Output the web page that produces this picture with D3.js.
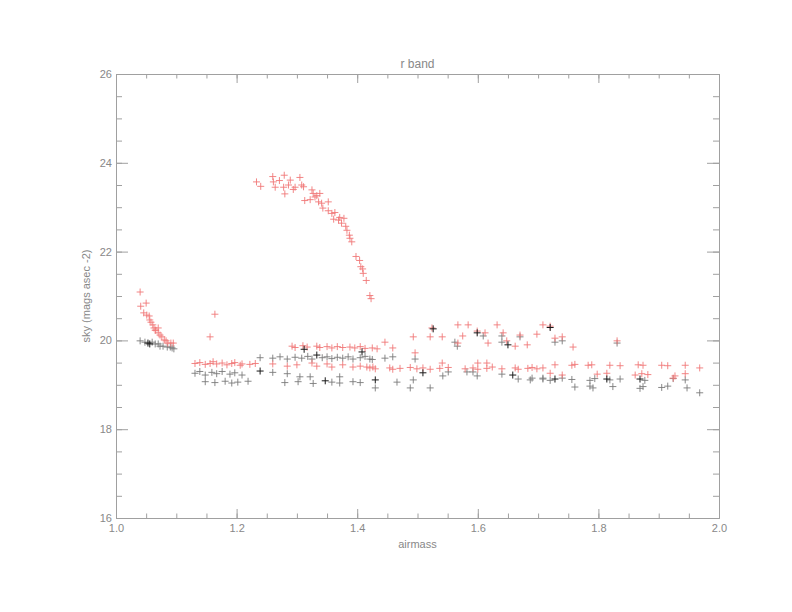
<!DOCTYPE html>
<html>
<head>
<meta charset="utf-8">
<script src="https://cdn.jsdelivr.net/npm/d3@7"></script>
<style>
  body { margin: 0; background: #fff; }
  text { font-family: "Liberation Sans", Arial, sans-serif; }
</style>
</head>
<body>
<div id="chart"></div>
<script>
// airmass vs sky brightness, r band
// red = one night, grey = another, dark = overplotted/dark points
var redPts = [
  [1.040,21.09],[1.041,20.77],[1.050,20.84],[1.046,20.62],[1.051,20.57],[1.055,20.55],[1.056,20.46],
  [1.058,20.41],[1.061,20.35],[1.063,20.28],[1.066,20.23],[1.070,20.17],[1.073,20.12],[1.076,20.08],
  [1.080,20.01],[1.083,19.99],[1.086,19.94],[1.091,19.94],[1.095,19.94],[1.065,20.23],[1.070,20.28],
  [1.164,20.59],[1.156,20.08],
  [1.131,19.48],[1.139,19.50],[1.148,19.46],[1.156,19.48],[1.161,19.52],[1.167,19.47],[1.176,19.49],
  [1.184,19.45],[1.192,19.48],[1.197,19.50],[1.206,19.44],[1.209,19.47],[1.222,19.46],[1.231,19.48],
  [1.260,19.47],[1.284,19.42],[1.300,19.45],[1.325,19.49],[1.333,19.42],[1.350,19.47],[1.358,19.40],
  [1.376,19.45],[1.393,19.40],[1.405,19.42],[1.416,19.40],[1.426,19.40],
  [1.292,19.87],[1.297,19.84],[1.310,19.88],[1.317,19.85],[1.333,19.87],[1.338,19.84],[1.350,19.86],
  [1.358,19.83],[1.367,19.86],[1.376,19.84],[1.388,19.85],[1.396,19.83],[1.405,19.86],[1.413,19.82],
  // upper arc
  [1.233,23.57],[1.240,23.47],[1.260,23.69],[1.261,23.57],[1.264,23.45],[1.271,23.60],[1.279,23.72],
  [1.278,23.45],[1.280,23.30],[1.289,23.61],[1.286,23.50],[1.294,23.40],[1.297,23.45],[1.305,23.67],
  [1.308,23.50],[1.311,23.46],[1.313,23.15],[1.322,23.17],[1.325,23.39],[1.327,23.31],[1.330,23.23],
  [1.333,23.26],[1.338,23.31],[1.336,23.12],[1.341,23.09],[1.343,22.98],[1.352,23.12],[1.352,22.92],
  [1.358,22.86],[1.363,22.88],[1.361,22.73],[1.369,22.71],[1.371,22.77],[1.374,22.64],[1.378,22.75],
  [1.381,22.57],[1.383,22.48],[1.387,22.37],[1.388,22.30],[1.391,22.22],[1.398,21.89],[1.404,21.80],
  [1.406,21.66],[1.409,21.61],[1.410,21.51],[1.415,21.35],[1.421,21.01],[1.423,20.94],
  // 1.42 - 1.75
  [1.446,19.96],[1.459,19.83],[1.425,19.83],[1.433,19.81],[1.496,19.72],[1.524,20.28],[1.567,20.35],
  [1.584,20.35],[1.632,20.35],[1.708,20.35],[1.599,20.21],[1.612,20.17],[1.642,20.17],[1.670,20.12],
  [1.698,20.14],[1.493,20.08],[1.521,20.08],[1.541,20.08],[1.575,20.10],[1.617,19.94],[1.648,19.99],
  [1.662,19.87],[1.682,19.90],[1.567,19.94],
  [1.421,19.38],[1.430,19.36],[1.454,19.38],[1.459,19.35],[1.471,19.37],[1.488,19.39],[1.499,19.36],
  [1.509,19.38],[1.521,19.35],[1.537,19.37],[1.551,19.39],[1.579,19.36],[1.592,19.38],[1.600,19.35],
  [1.615,19.37],[1.624,19.40],[1.640,19.36],[1.662,19.38],[1.667,19.35],[1.683,19.37],[1.690,19.39],
  [1.698,19.36],[1.708,19.38],[1.541,19.49],[1.600,19.49],[1.615,19.49],
  // 1.72 - 2.0
  [1.720,20.32],[1.728,20.05],[1.740,20.08],[1.758,19.85],[1.831,19.99],
  [1.728,19.45],[1.756,19.44],[1.761,19.46],[1.783,19.44],[1.789,19.45],[1.819,19.44],[1.836,19.43],
  [1.866,19.45],[1.874,19.44],[1.905,19.44],[1.915,19.43],[1.944,19.44],[1.968,19.38],
  [1.720,19.26],[1.740,19.22],[1.798,19.24],[1.814,19.26],[1.861,19.22],[1.872,19.25],[1.882,19.23],
  [1.927,19.20],[1.944,19.25],[1.924,19.15]
];

var greyPts = [
  [1.040,19.99],[1.048,19.96],[1.060,19.96],[1.065,19.92],[1.070,19.92],[1.073,19.87],[1.078,19.87],
  [1.085,19.85],[1.090,19.85],[1.093,19.83],[1.096,19.81],
  [1.131,19.26],[1.139,19.30],[1.148,19.22],[1.159,19.28],[1.167,19.25],[1.176,19.30],[1.189,19.24],
  [1.197,19.27],[1.209,19.22],[1.260,19.28],[1.284,19.25],
  [1.148,19.07],[1.164,19.05],[1.181,19.08],[1.192,19.04],[1.202,19.06],[1.219,19.08],[1.280,19.05],
  [1.302,19.07],[1.327,19.03],[1.358,19.06],[1.371,19.04],[1.393,19.07],[1.405,19.05],
  [1.305,19.18],[1.322,19.18],[1.371,19.18],
  [1.239,19.61],[1.260,19.60],[1.272,19.63],[1.284,19.58],[1.297,19.62],[1.308,19.60],[1.318,19.64],
  [1.325,19.58],[1.342,19.61],[1.350,19.63],[1.358,19.59],[1.367,19.62],[1.376,19.60],[1.385,19.63],
  [1.393,19.58],[1.405,19.61],[1.413,19.64],[1.425,19.57],
  [1.421,19.58],[1.446,19.60],[1.459,19.63],[1.496,19.58],[1.562,19.96],[1.566,19.87],[1.609,20.10],
  [1.640,20.10],[1.640,19.96],[1.670,20.08],[1.430,18.93],[1.466,19.06],[1.488,18.93],[1.493,19.11],
  [1.521,18.93],[1.542,19.20],[1.551,19.29],[1.582,19.29],[1.592,19.29],[1.599,19.20],[1.640,19.24],
  [1.667,19.13],[1.687,19.11],[1.690,19.15],[1.708,19.15],
  [1.728,19.96],[1.740,19.99],[1.831,19.94],
  [1.708,19.13],[1.720,19.10],[1.740,19.15],[1.756,19.12],[1.786,19.10],[1.794,19.14],[1.819,19.11],
  [1.836,19.13],[1.877,19.10],[1.924,19.14],[1.944,19.11],
  [1.761,18.95],[1.786,18.97],[1.791,18.93],[1.824,18.96],[1.869,18.92],[1.874,18.96],[1.905,18.94],
  [1.915,18.97],[1.947,18.93],[1.968,18.82]
];

var darkPts = [
  [1.053,19.94],[1.056,19.92],[1.239,19.31],[1.312,19.80],[1.333,19.67],[1.408,19.74],[1.347,19.09],
  [1.430,19.11],[1.526,20.26],[1.599,20.17],[1.650,19.90],[1.509,19.27],[1.658,19.22],[1.720,20.29],
  [1.728,19.13],[1.814,19.13],[1.869,19.13]
];

var xMajor = [1.0, 1.2, 1.4, 1.6, 1.8, 2.0];
var yMajor = [16, 18, 20, 22, 24, 26];

var margin = {top: 74, right: 73, bottom: 94, left: 116},
    width = 792 - margin.left - margin.right,
    height = 612 - margin.top - margin.bottom;

var axisCol = "#a0a0a0", textCol = "#888";

var svg = d3.select("#chart").append("svg")
    .attr("width", 792)
    .attr("height", 612);

var g = svg.append("g")
    .attr("transform", "translate(" + margin.left + "," + margin.top + ")");

var x = d3.scaleLinear().domain([1.0, 2.0]).range([0, width]);
var y = d3.scaleLinear().domain([16, 26]).range([height, 0]);

var xMinor = d3.range(1.0, 2.0001, 0.05).map(function(d) { return +d.toFixed(2); });
var yMinor = d3.range(16, 26.001, 0.5);

function styleAxis(sel) {
  sel.selectAll("path, line").attr("stroke", axisCol);
  sel.selectAll("text").attr("fill", textCol).style("font-size", "11px");
}

// minor ticks first (no labels)
g.append("g").attr("transform", "translate(0," + height + ")")
  .call(d3.axisBottom(x).tickValues(xMinor).tickSize(-4.5).tickSizeOuter(0).tickFormat(""))
  .call(styleAxis);
g.append("g")
  .call(d3.axisTop(x).tickValues(xMinor).tickSize(-4.5).tickSizeOuter(0).tickFormat(""))
  .call(styleAxis);
g.append("g")
  .call(d3.axisLeft(y).tickValues(yMinor).tickSize(-6).tickSizeOuter(0).tickFormat(""))
  .call(styleAxis);
g.append("g").attr("transform", "translate(" + width + ",0)")
  .call(d3.axisRight(y).tickValues(yMinor).tickSize(-6).tickSizeOuter(0).tickFormat(""))
  .call(styleAxis);

// major ticks
g.append("g").attr("transform", "translate(0," + height + ")")
  .call(d3.axisBottom(x).tickValues(xMajor).tickSize(-9).tickSizeOuter(0).tickPadding(6)
    .tickFormat(d3.format(".1f")))
  .call(styleAxis);
g.append("g")
  .call(d3.axisTop(x).tickValues(xMajor).tickSize(-9).tickSizeOuter(0).tickFormat(""))
  .call(styleAxis);
g.append("g")
  .call(d3.axisLeft(y).tickValues(yMajor).tickSize(-12).tickSizeOuter(0).tickPadding(4)
    .tickFormat(d3.format("d")))
  .call(styleAxis);
g.append("g").attr("transform", "translate(" + width + ",0)")
  .call(d3.axisRight(y).tickValues(yMajor).tickSize(-12).tickSizeOuter(0).tickFormat(""))
  .call(styleAxis);

// plus symbols
var plus = "M-3.5,0H3.5M0,-3.5V3.5";

function drawPts(data, col, w) {
  g.append("g").selectAll("path")
    .data(data)
    .enter()
      .append("path")
        .attr("d", plus)
        .attr("transform", function(d) { return "translate(" + x(d[0]) + "," + y(d[1]) + ")"; })
        .attr("stroke", col)
        .attr("stroke-width", w)
        .attr("fill", "none");
}

drawPts(greyPts, "#7a7a7a", 0.9);
drawPts(redPts, "#f07878", 0.9);
drawPts(darkPts, "#1a1a1a", 1);

// labels
g.append("text")
  .attr("x", width / 2)
  .attr("y", -6)
  .attr("text-anchor", "middle")
  .attr("fill", textCol)
  .style("font-size", "12px")
  .text("r band");

g.append("text")
  .attr("x", width / 2)
  .attr("y", height + 30)
  .attr("text-anchor", "middle")
  .attr("fill", textCol)
  .style("font-size", "11px")
  .text("airmass");

g.append("text")
  .attr("transform", "translate(-26," + (height / 2) + ") rotate(-90)")
  .attr("text-anchor", "middle")
  .attr("fill", textCol)
  .style("font-size", "11px")
  .text("sky (mags asec -2)");
</script>
</body>
</html>
